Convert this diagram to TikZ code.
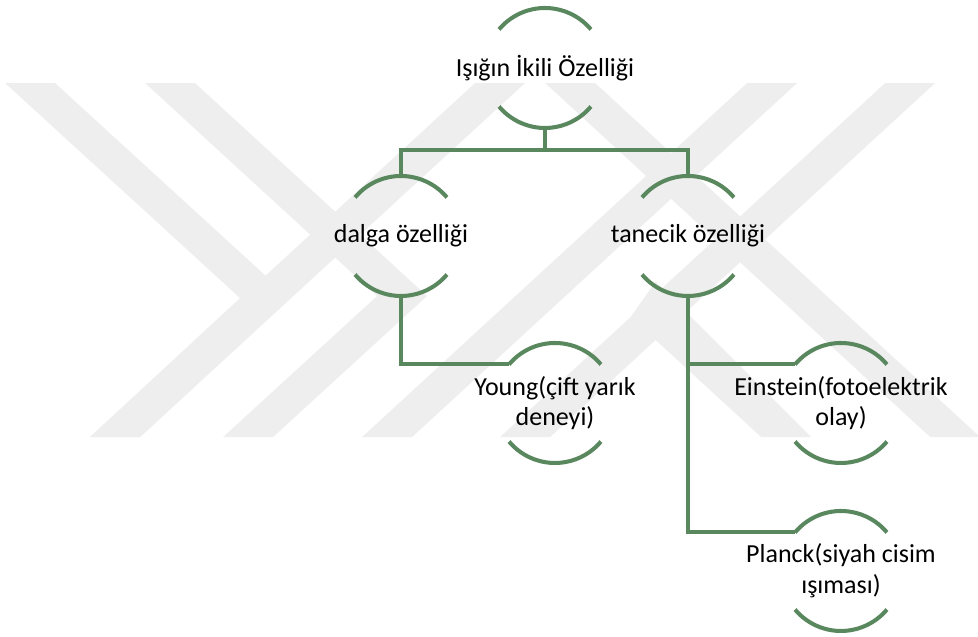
\documentclass[tikz,border=0pt]{standalone}
\usepackage{fontspec}
\setmainfont{Carlito}
\definecolor{leaf}{RGB}{89,135,94}
\definecolor{wmgray}{RGB}{238,238,238}
\begin{document}
\begin{tikzpicture}[
	txt/.style={align=center, inner sep=0pt, font=\fontsize{14.8}{17.5}\selectfont},
	ring/.style={draw=leaf, line width=2.3pt},
	link/.style={draw=leaf, line width=2.3pt, line join=miter}]
	\useasboundingbox (0, 0) rectangle (19.56, 12.74);

	% faint watermark behind the chart
	\begin{scope}[shift={(0, 12.74)}, x=0.02cm, y=-0.02cm]
		\fill[wmgray] (5, 83) -- (55, 83) -- (290, 298) -- (140, 437) -- (90, 437) -- (240, 298) -- cycle;
		\fill[wmgray] (90, 437) -- (140, 437) -- (525, 83) -- (475, 83) -- cycle;
		\fill[wmgray] (145, 83) -- (195, 83) -- (427, 296) -- (273, 437) -- (223, 437) -- (377, 296) -- cycle;
		\fill[wmgray] (362, 437) -- (412, 437) -- (797, 83) -- (747, 83) -- cycle;
		\fill[wmgray] (500, 437) -- (550, 437) -- (935, 83) -- (885, 83) -- cycle;
		\fill[wmgray] (630.5, 317) -- (655.5, 281.5) -- (811, 437) -- (761, 437) -- cycle;
		\fill[wmgray] (545, 83) -- (595, 83) -- (980, 437) -- (930, 437) -- cycle;
	\end{scope}

	\node[txt] (root) at (10.9, 11.38) {Işığın İkili Özelliği};
	\node[txt] (dalga) at (8.02, 8.02) {dalga özelliği};
	\node[txt] (tanecik) at (13.76, 8.02) {tanecik özelliği};
	\node[txt] (young) at (11.1, 4.68) {Young(çift yarık\\deneyi)};
	\node[txt] (einstein) at (16.82, 4.68) {Einstein(fotoelektrik\\olay)};
	\node[txt] (planck) at (16.82, 1.32) {Planck(siyah cisim\\ışıması)};

	\foreach \n in {root, dalga, tanecik, young, einstein, planck} {
		\draw[ring] (\n.center) ++(140:1.2) coordinate (\n-in) arc (140:40:1.2);
		\draw[ring] (\n.center) ++(220:1.2) arc (220:320:1.2);
		\path (\n.center) ++(0, 1.2) coordinate (\n-top);
		\path (\n.center) ++(0, -1.2) coordinate (\n-bot);
	}

	\draw[link] (root-bot) -- ++(0, -0.44) -| (dalga-top);
	\draw[link] (root-bot) -- ++(0, -0.44) -| (tanecik-top);
	\draw[link] (dalga-bot) |- (young-in);
	\draw[link] (tanecik-bot) |- (einstein-in);
	\draw[link] (tanecik-bot) |- (planck-in);
\end{tikzpicture}
\end{document}
